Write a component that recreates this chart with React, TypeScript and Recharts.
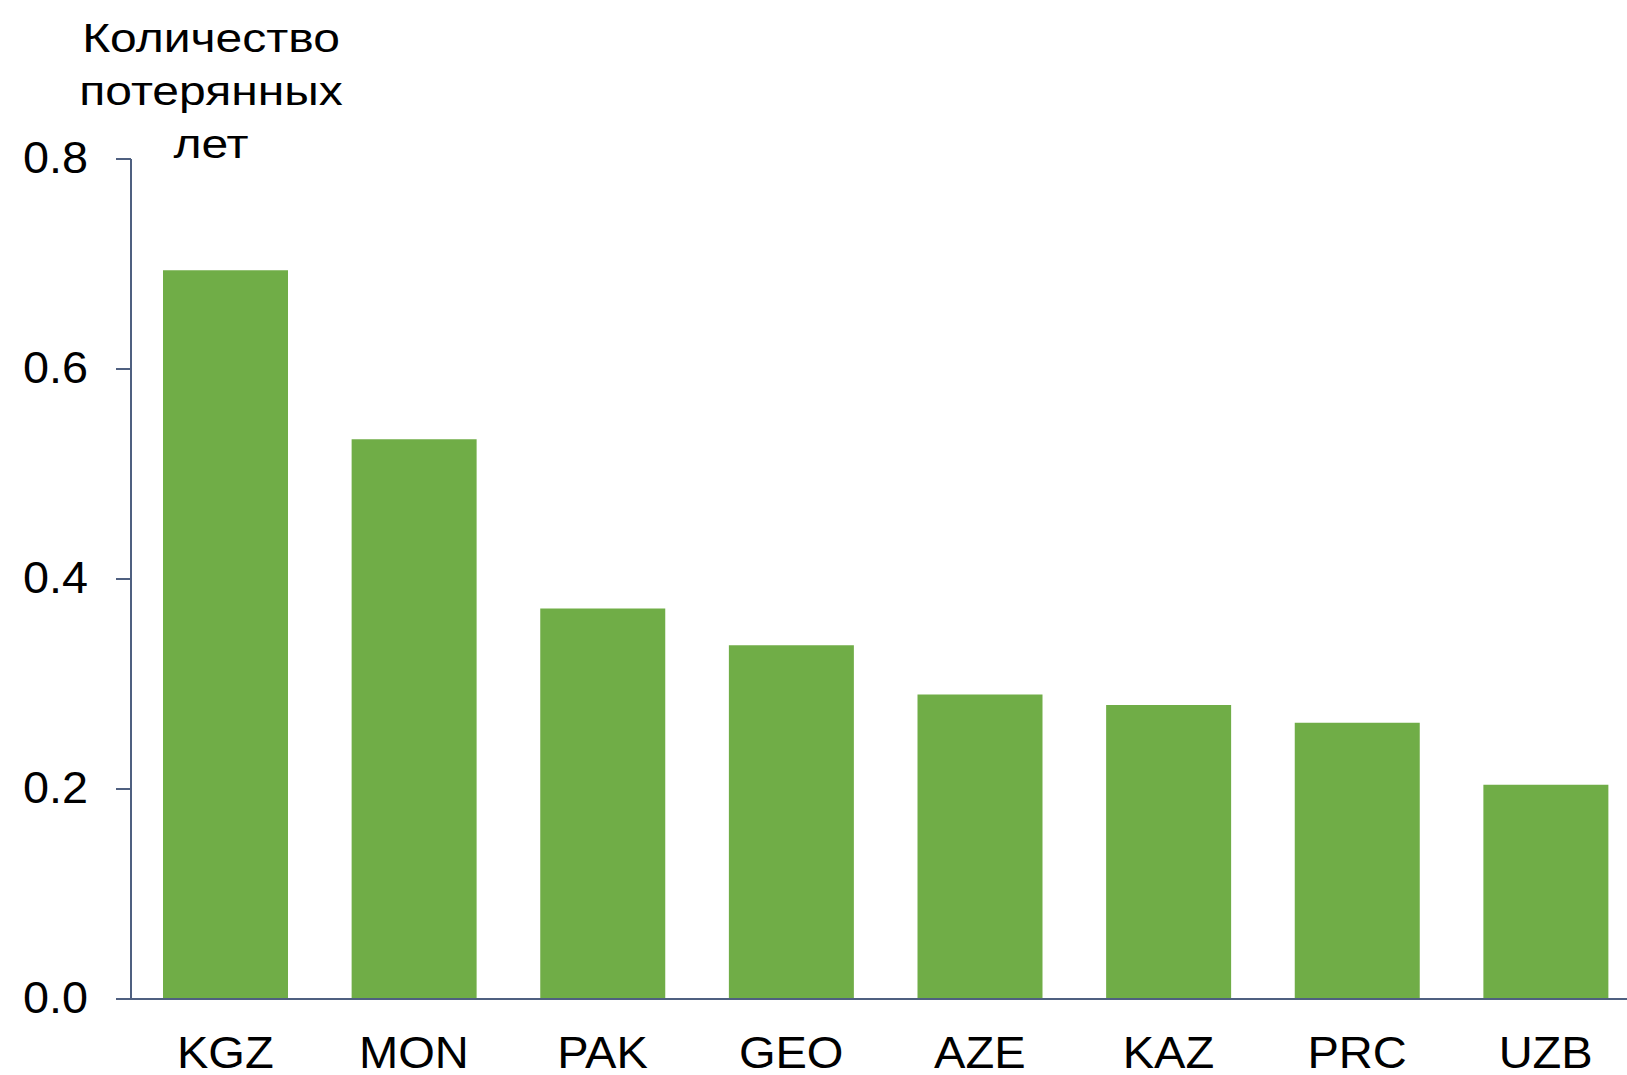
import { BarChart, Bar, XAxis, YAxis, Label } from "recharts";

// Lost years per country
const countries = ["KGZ", "MON", "PAK", "GEO", "AZE", "KAZ", "PRC", "UZB"];
const lostYears = [0.694, 0.533, 0.372, 0.337, 0.29, 0.28, 0.263, 0.204];
const yTicks = [0, 0.2, 0.4, 0.6, 0.8];
const titleLines = ["Количество", "потерянных", "лет"];

const data = countries.map((c, i) => ({ country: c, value: lostYears[i] }));

const font = "'Liberation Sans', Arial, sans-serif";
const axisColor = "#4f6080";

// the source picture is a bit wider than tall, so text is stretched slightly
const XTick = (props: any) => {
  const { x, y, payload } = props;
  return (
    <text
      x={0}
      y={0}
      dy="0.71em"
      textAnchor="middle"
      fontFamily={font}
      fontSize={44}
      fill="#000"
      transform={`translate(${x},${y}) scale(1.07,1)`}
    >
      {payload.value}
    </text>
  );
};

const YTick = (props: any) => {
  const { x, y, payload } = props;
  return (
    <text
      x={0}
      y={0}
      dy="0.3em"
      textAnchor="end"
      fontFamily={font}
      fontSize={45}
      fill="#000"
      transform={`translate(${x},${y}) scale(1.04,1)`}
    >
      {Number(payload.value).toFixed(1)}
    </text>
  );
};

const YTitle = () => (
  <g transform="translate(211,0) scale(1.2,1)">
    <text x={0} y={52} textAnchor="middle" fontFamily={font} fontSize={40} fill="#000">
      {titleLines.map((line, i) => (
        <tspan key={line} x={0} dy={i === 0 ? 0 : 53}>
          {line}
        </tspan>
      ))}
    </text>
  </g>
);

export default function App() {
  return (
    <div style={{ position: "fixed", left: 0, top: 0, width: 1627, height: 1075, overflow: "hidden", background: "#fff" }}>
      <BarChart width={1660} height={1075} data={data} margin={{ top: 159, right: 20, bottom: 0, left: 0 }}>
        <XAxis
          dataKey="country"
          height={76}
          tickLine={false}
          tickSize={0}
          tickMargin={38}
          stroke={axisColor}
          strokeWidth={2}
          interval={0}
          tick={<XTick />}
        />
        <YAxis
          width={131}
          domain={[0, 0.8]}
          ticks={yTicks}
          tickSize={15}
          tickMargin={28}
          stroke={axisColor}
          strokeWidth={2}
          tick={<YTick />}
        >
          <Label content={() => <YTitle />} />
        </YAxis>
        <Bar dataKey="value" fill="#70ad47" barSize={125} isAnimationActive={false} />
      </BarChart>
    </div>
  );
}
